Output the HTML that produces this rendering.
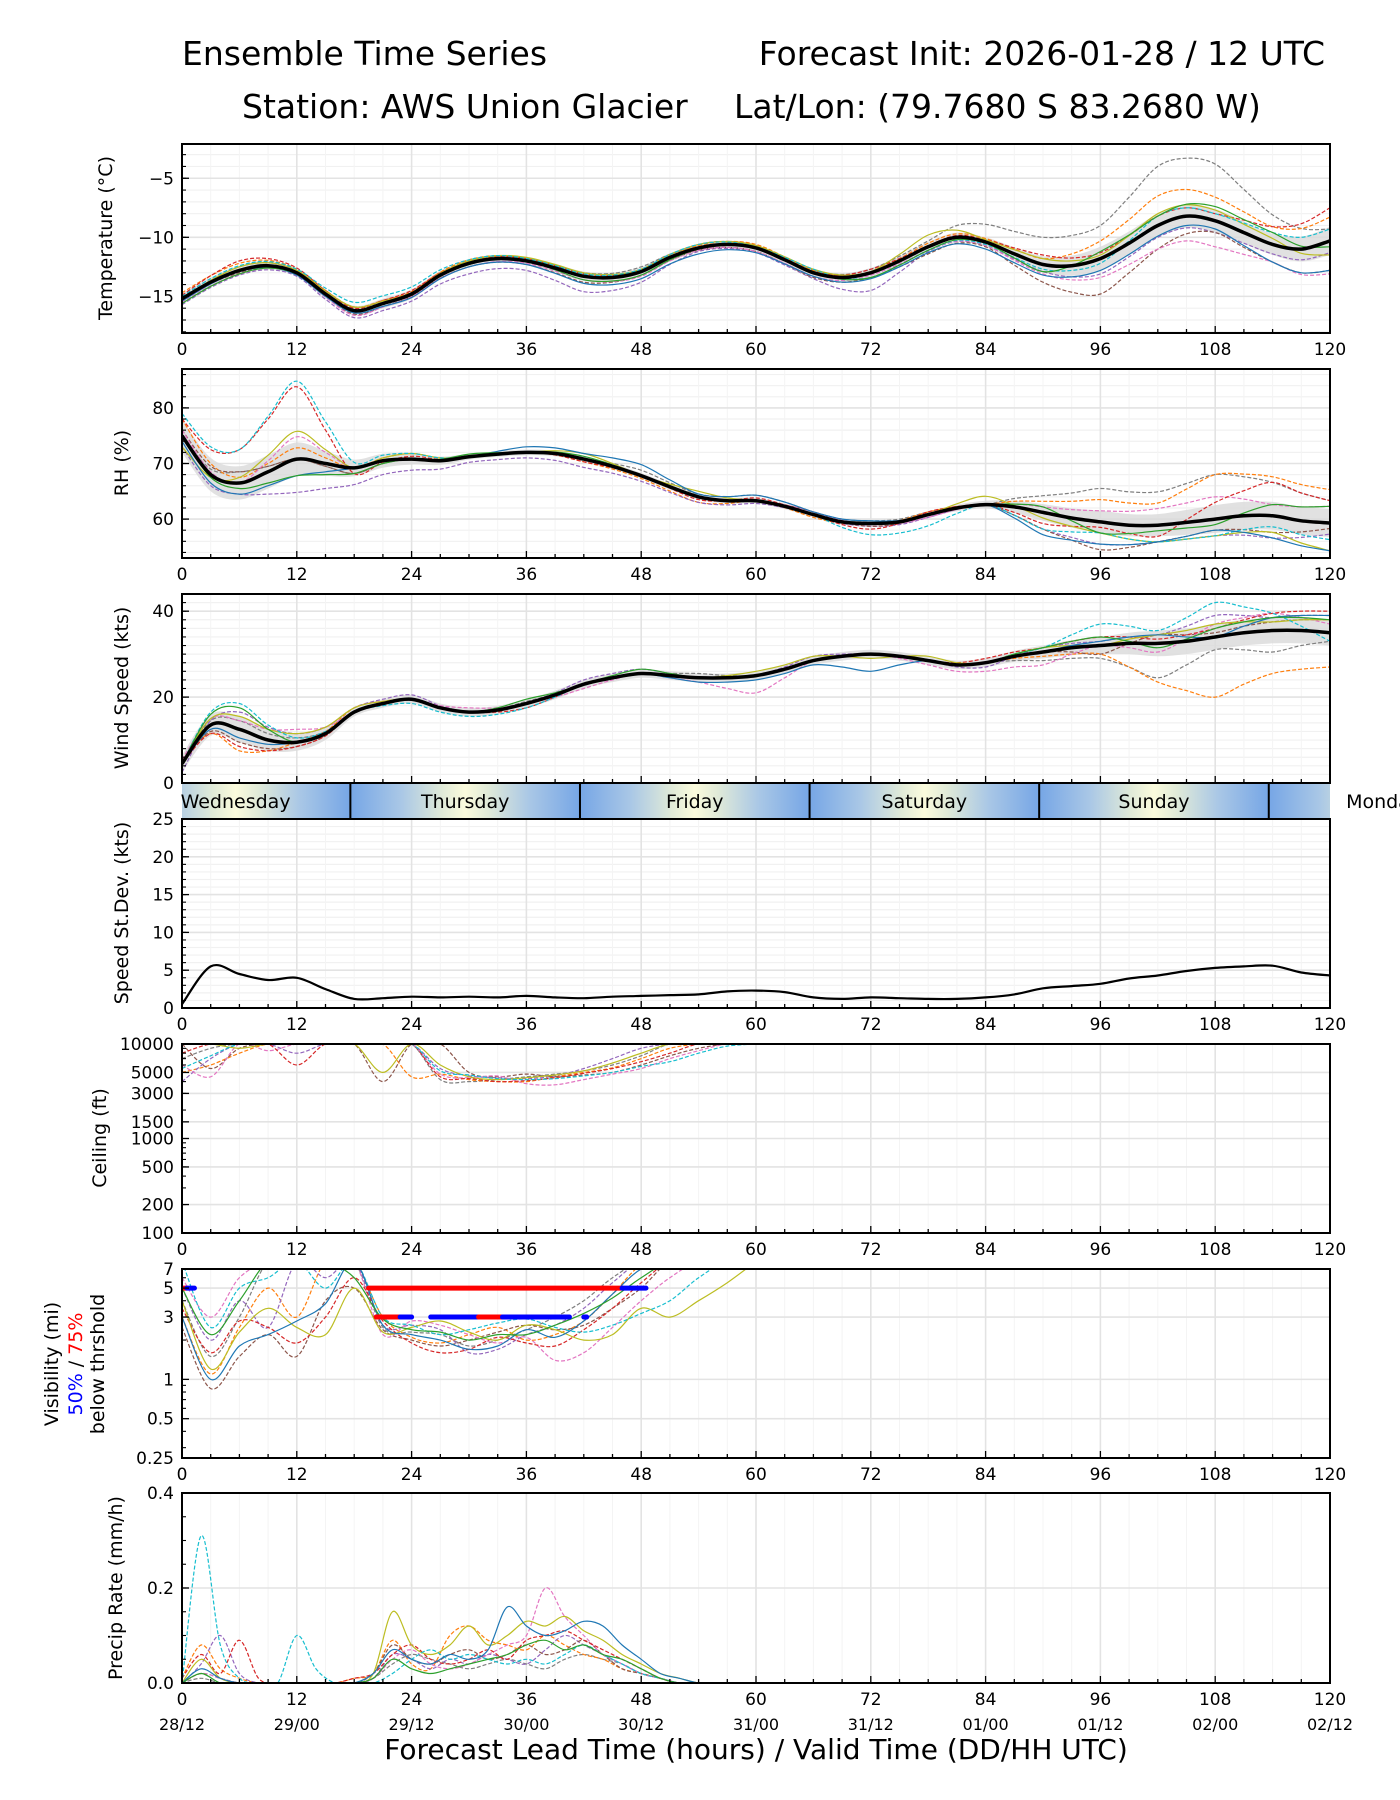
<!DOCTYPE html>
<html><head><meta charset="utf-8"><title>Ensemble Time Series</title>
<style>
html,body{margin:0;padding:0;background:#fff;}
svg{display:block;font-family:"DejaVu Sans","Liberation Sans",sans-serif;}
</style></head>
<body>
<svg id="chart" width="1400" height="1800" viewBox="0 0 1400 1800" xmlns="http://www.w3.org/2000/svg">
<rect width="1400" height="1800" fill="#fff"/>
<text x="182" y="65" font-size="33">Ensemble Time Series</text>
<text x="1325" y="65" font-size="33" text-anchor="end">Forecast Init: 2026-01-28 / 12 UTC</text>
<text x="242" y="118" font-size="33">Station: AWS Union Glacier</text>
<text x="734" y="118" font-size="33">Lat/Lon: (79.7680 S 83.2680 W)</text>
<text x="756" y="1759" font-size="28" text-anchor="middle">Forecast Lead Time (hours) / Valid Time (DD/HH UTC)</text>
</svg>
<script>
// ---------- data ----------
const hours3 = [0,3,6,9,12,15,18,21,24,27,30,33,36,39,42,45,48,51,54,57,60,63,66,69,72,75,78,81,84,87,90,93,96,99,102,105,108,111,114,117,120];
const hours6 = [0,6,12,18,24,30,36,42,48,54,60,66,72,78,84,90,96,102,108,114,120];
const hoursCeilVis = [0,3,6,9,12,15,18,21,24,27,30,33,36,39,42,45,48,51,54,57,60];
const hoursPrecip = [0,2,4,6,8,10,12,14,16,18,20,22,24,26,28,30,32,34,36,38,40,42,44,46,48,50,52,54,56,58,60];
const xTickLabels = ["0","12","24","36","48","60","72","84","96","108","120"];
const dateLabels = ["28/12","29/00","29/12","30/00","30/12","31/00","31/12","01/00","01/12","02/00","02/12"];
const dayNames = ["Wednesday","Thursday","Friday","Saturday","Sunday","Monday"];
const dayBoundaries = [17.6,41.6,65.6,89.6,113.6];

const tempMean = [-15.2,-13.8,-12.8,-12.4,-13.0,-14.8,-16.2,-15.6,-14.8,-13.2,-12.2,-11.8,-12.0,-12.6,-13.3,-13.4,-12.9,-11.7,-10.9,-10.6,-10.9,-11.9,-13.0,-13.4,-13.0,-12.0,-10.8,-10.0,-10.4,-11.4,-12.3,-12.4,-11.8,-10.5,-9.0,-8.2,-8.6,-9.6,-10.6,-11.0,-10.3];
const tempSpread = [0.4,0.4,0.3,0.4,0.4,0.3,0.3,0.4,0.4,0.3,0.3,0.3,0.4,0.4,0.4,0.7,1.0,1.0,1.0,0.9,1.2];
const tempM1 = [0,0.3,0.2,0.3,0.2,0.2,0.2,0.3,0.4,0.1,0,0.2,0.3,0.5,1.5,2.3,2.8,5.0,4.8,2.5,1.0];
const tempM2 = [0.5,0.6,0.3,0.3,0.2,0.3,0.2,0,0,0.2,0.3,0.2,0.1,0.3,0.3,0.5,1.5,2.5,2.0,1.5,2.0];
const tempM3 = [-0.5,-0.4,-0.3,-0.6,-0.6,-0.9,-0.8,-1.3,-0.9,-0.3,-0.4,-0.5,-1.5,-0.4,-0.3,-0.6,-1.3,-1.0,-1.0,-0.8,-1.0];
const tempM4 = [0,-0.2,0,-0.3,-0.2,-0.3,-0.3,-0.5,-0.3,-0.2,-0.3,-0.4,-0.4,-0.6,-0.4,-1.5,-3.0,-2.0,-1.0,-1.5,-2.5];
const tempM5 = [-0.3,-0.3,-0.1,-0.4,-0.2,-0.3,-0.2,-0.3,-0.4,-0.2,-0.3,-0.3,-0.2,-0.3,-0.3,-0.8,-1.6,-2.0,-2.2,-1.5,-2.8];
const tempM6 = [0.3,0.8,0.4,0.2,0.3,0.1,0.2,0.2,0.2,0.3,0.2,0.1,0.3,0.1,0.2,0.8,0.5,0.8,0.6,1.5,2.8];
const tempM7 = [0,0.3,0.2,0.3,0.1,0.2,0.3,0.3,0.2,0.3,0.2,0.3,0.1,1.0,0.2,0.5,0.3,1.0,0.9,0.5,-1.2];
const tempM8 = [0.2,0.4,0.3,0.7,0.6,0.3,0.2,0.2,0.2,0.3,0.1,0.3,-0.4,-0.3,-0.2,-0.4,-0.4,0.8,0.6,1.0,1.0];
const tempM9 = [-0.2,-0.1,-0.2,-0.2,-0.3,-0.3,-0.3,-0.6,-0.6,-0.5,-0.4,-0.3,-0.5,-0.5,-0.6,-0.9,-1.0,-0.9,-0.7,-1.5,-2.5];
const tempM10 = [-0.4,-0.3,-0.1,0,-0.1,-0.1,0,-0.3,-0.3,-0.1,0,0.1,-0.4,-0.3,-0.1,-0.6,0.6,0.8,1.2,1.0,-0.5];

const rhMean = [75,68,66.5,68.5,70.8,70,69.2,70.5,70.8,70.5,71.2,71.7,72.0,71.8,70.8,69.5,67.8,65.8,64,63.3,63.3,62.3,60.8,59.5,59.2,59.5,60.8,62.0,62.6,62.2,61.2,60.2,59.5,58.9,58.9,59.4,60.0,60.6,60.6,59.7,59.3];
const rhSpread = [3,3,3,1.5,1,0.5,0.5,0.5,0.5,0.5,0.5,0.5,0.5,0.5,0.7,1.5,2,2,2.5,2.5,2.5];
const rhM1 = [0,2,0,-1,0,0,0,0,1,0.5,1,0.5,0.5,0.5,0,3,6,6,8,6,4];
const rhM2 = [3,1,2,0,1,0,0,-0.5,-0.5,-1,0,-0.5,0,0.5,0,2,4,4,8,7,6];
const rhM3 = [-2,-2,-6,-3,-2,-1,-1,-1.5,-1,-1,-0.5,0,-0.5,-0.5,0,-3,-4,-3,-3,-4,-2];
const rhM4 = [1,2,0,-1,0,0,0,0,0,0,0,0.5,-0.5,0,0,-3,-5,-3,-2,-3,-1];
const rhM5 = [1,0,4,0,0,0,0,0,0,0,0,0.5,0,-0.5,0,1,2,3,4,2,3];
const rhM6 = [3,6,13,-1,0.5,0,0,-0.5,0,-0.5,0.5,0,-1,0.5,0,-2,-1,-2,3,6,4];
const rhM7 = [-2,1,5,0,1,0,0,1,0,1,0,0,0,0,1.5,-1,-2,-3,-3,-3,-5];
const rhM8 = [4,6,14,1,1,0,0,0,0,0,0,0,-2,-2,0,-3,-2,-3,-3,-2,-3];
const rhM9 = [-1,-2,-3,0,0,0,1,1,2,0.5,1,0.5,0.5,0,0,-4,-4,-3,-2,-4,-5];
const rhM10 = [0,-1,-3,-1,0,0.5,0,0.5,0,0,0,0,0,0,0,1,-2,-1,-1,2,3];

const windMean = [4.5,13.5,12.5,10,9.5,11.5,16.5,18.5,19.5,17.5,16.5,17,18.5,20.5,23,24.5,25.5,25,24.5,24.5,25,26.5,28.5,29.5,30,29.5,28.5,27.5,28,29.5,30.5,31.5,32,32.5,32.5,33,34,35,35.5,35.5,35];
const windSpread = [2,3,2,1,1,1,1,1,1,1,1,1,1,1,1,1.5,2,3,3,3,3];
const windM1 = [0,2,1,0,0,0,0.5,0,0,1,0,0,0,0,0,-2,-3,-8,-3,-5,-2];
const windM2 = [1,-5,0,1,0,0,0,0,0,0,0,0,0,0,0,-1,-2,-9,-14,-10,-8];
const windM3 = [-2,4,2,1,1,0,0,1,1,0,0,1,0,0,-1,1,1,2,5,3,4];
const windM4 = [0,-3,-1,0,0,0,0,0,0,0,0,0,0,0,0,0,-2,2,1,2,3];
const windM5 = [1,2,3,0,0,1,0,-1,0,-1,-4,0,0,-1,-2,-3,0,-2,3,4,2];
const windM6 = [0,-4,-1,0,0,0,-1,0,0,0,0,0,0,0,1,1,2,1,2,4,5];
const windM7 = [0,3,2,1,0,0,0,0,0,0,1,1,-1,1,0,1,0,2,3,2,3];
const windM8 = [0,6,1,0,-1,-1,-1,0,0,0,0,0,0,0,0,1,5,3,8,4,-2];
const windM9 = [0,-2,0,0,0,0,0,0,0,-1,-1,-1,-4,0,0,0,1,2,0,3,4];
const windM10 = [0,5,0,0,0,0,1,0,1,0,0,0,0,0,0,1,2,-1,2,3,3];

const speedStd = [0.5,5.5,4.5,3.7,4.0,2.5,1.2,1.3,1.5,1.4,1.5,1.4,1.6,1.4,1.3,1.5,1.6,1.7,1.8,2.2,2.3,2.1,1.4,1.2,1.4,1.3,1.2,1.2,1.4,1.8,2.6,2.9,3.2,3.9,4.3,4.9,5.3,5.5,5.6,4.7,4.3];

const ceilM1 = [7000,9000,10000,10000,10000,10000,10000,10000,10000,4200,4000,4200,4500,4800,5200,6000,7500,10000,10000,10000,10000];
const ceilM2 = [5000,6000,8000,10000,10000,10000,10000,10000,4500,4800,4200,4000,4000,4500,5000,5600,7000,9000,10000,10000,10000];
const ceilM3 = [4000,7000,10000,10000,8000,10000,10000,10000,10000,5500,4600,4400,4300,4600,5500,7000,9000,10000,10000,10000,10000];
const ceilM4 = [10000,5500,9000,10000,10000,10000,10000,4000,10000,10000,5000,4500,4800,4500,4700,5000,6000,7500,9000,10000,10000];
const ceilM5 = [6000,4500,10000,8500,10000,10000,10000,10000,10000,4800,4400,4600,3800,3700,4200,4800,5500,7000,8500,10000,10000];
const ceilM6 = [8000,10000,10000,10000,6000,10000,10000,10000,10000,4500,4300,4000,4100,4400,4900,5500,6500,8000,10000,10000,10000];
const ceilM7 = [10000,10000,9000,10000,10000,10000,10000,5000,10000,6000,4500,4200,4400,4700,5200,6300,8000,10000,10000,10000,10000];
const ceilM8 = [5500,7500,10000,10000,10000,10000,10000,10000,10000,5200,4700,4300,4200,4300,4600,5000,5800,6500,8000,9500,10000];

const visM1 = [4,1.5,3,8,8,8,8,2.5,2.3,2.2,1.8,2.0,2.4,3,4,6,8,8,8,8,8];
const visM2 = [3,1.1,2.5,5,3,8,8,3,2.1,1.9,2.2,2.5,2.0,2.2,2.8,4.5,7.5,8,8,8,8];
const visM3 = [5,2,4,2.5,8,6,8,2.6,2.6,2.4,1.6,1.7,2.2,2.6,3.5,5.5,8,8,8,8,8];
const visM4 = [2.5,0.85,1.5,2.2,1.5,4,5,2.4,2.0,1.8,2.0,2.3,2.6,2.4,2.6,3.5,5,8,8,8,8];
const visM5 = [6,3,6,8,8,8,8,2.2,2.8,2.6,2.2,1.9,2.1,1.4,1.6,2.5,4,6,8,8,8];
const visM6 = [3.5,1.6,2.8,2.5,1.9,3,6,2.8,1.9,1.6,1.7,2.1,1.9,1.8,2.4,3.5,5.5,8,8,8,8];
const visM7 = [4,1.2,2.3,3.5,2.5,2.2,5,2.3,2.5,2.8,2.3,2.0,2.6,2.4,2.0,2.2,3.5,3.0,4,5.5,8];
const visM8 = [8,2.5,5,6,8,5,8,3,2.6,2.2,2.4,2.7,2.9,2.5,2.3,2.6,3.2,4,6,8,8];
const visM9 = [3,1.0,1.8,2.2,2.8,3.8,8,2.6,2.2,2.0,1.7,1.8,2.4,2.1,2.8,4.5,7,8,8,8,8];
const visM10 = [5,2.2,4,8,8,8,6,2.9,2.4,2.3,2.0,2.2,2.2,2.6,3.2,4.2,6,8,8,8,8];
const visThreshLevels = [5,5,5,5,3,3,3,3,3,3];
const visThreshStart = [0,0.5,19.5,46,20.3,22.8,26,31,33.5,42];
const visThreshEnd = [0.5,1.3,46,48.5,22.8,24,31,33.5,40.5,42.3];
const visThreshPct = [75,50,75,50,75,50,50,75,50,50];

const precipM1 = [0,0.31,0.08,0.01,0,0,0.1,0.03,0,0,0,0.02,0.05,0.07,0.05,0.06,0.05,0.04,0.05,0.04,0.06,0.08,0.06,0.04,0.02,0.01,0,0,0,0,0];
const precipM2 = [0.01,0.06,0.02,0.09,0.01,0,0,0,0,0.01,0.02,0.06,0.08,0.05,0.04,0.05,0.07,0.05,0.09,0.1,0.11,0.09,0.07,0.05,0.03,0.01,0,0,0,0,0];
const precipM3 = [0,0.02,0.01,0,0,0,0,0,0,0,0.01,0.05,0.07,0.04,0.03,0.04,0.06,0.08,0.1,0.2,0.14,0.1,0.06,0.04,0.02,0.01,0,0,0,0,0];
const precipM4 = [0,0.05,0.01,0,0,0,0,0,0,0,0.02,0.15,0.08,0.06,0.08,0.12,0.08,0.1,0.13,0.12,0.14,0.11,0.09,0.06,0.04,0.02,0.01,0,0,0,0];
const precipM5 = [0,0.03,0.01,0,0,0,0,0,0,0,0.02,0.07,0.05,0.04,0.06,0.05,0.07,0.16,0.12,0.1,0.11,0.13,0.12,0.08,0.05,0.02,0.01,0,0,0,0];
const precipM6 = [0.01,0.08,0.03,0.01,0,0,0,0,0,0.01,0.02,0.09,0.04,0.03,0.1,0.12,0.09,0.08,0.07,0.1,0.08,0.06,0.05,0.03,0.02,0.01,0,0,0,0,0];
const precipM7 = [0,0.02,0,0,0,0,0,0,0,0,0.01,0.05,0.03,0.02,0.03,0.04,0.05,0.06,0.08,0.09,0.07,0.08,0.06,0.05,0.03,0.01,0,0,0,0,0];
const precipM8 = [0,0.04,0.1,0.02,0,0,0,0,0,0,0.01,0.06,0.05,0.03,0.05,0.04,0.06,0.05,0.04,0.07,0.1,0.08,0.06,0.04,0.02,0.01,0,0,0,0,0];
const precipM9 = [0,0.01,0,0,0,0,0,0,0,0,0.01,0.04,0.06,0.05,0.04,0.03,0.04,0.05,0.04,0.03,0.05,0.06,0.05,0.04,0.02,0.01,0,0,0,0,0];
const precipM10 = [0,0.02,0.01,0,0,0,0,0,0,0,0.02,0.08,0.05,0.04,0.06,0.07,0.05,0.06,0.08,0.06,0.07,0.09,0.06,0.03,0.02,0.01,0,0,0,0,0];

// ---------- rendering ----------
const svg = document.getElementById('chart');
const NS = 'http://www.w3.org/2000/svg';
const X0 = 182, X1 = 1330;
function xS(h){ return X0 + h * (X1 - X0) / 120; }
function el(tag, attrs, parent){
  const e = document.createElementNS(NS, tag);
  for (const k in attrs) e.setAttribute(k, attrs[k]);
  (parent || svg).appendChild(e);
  return e;
}
const COLORS = ['#7f7f7f','#ff7f0e','#9467bd','#8c564b','#e377c2','#d62728','#bcbd22','#17becf','#1f77b4','#2ca02c'];
const DASHED = [true,true,true,true,true,true,false,true,false,false];
function smoothPath(pts){
  let d = 'M' + pts[0][0].toFixed(1) + ',' + pts[0][1].toFixed(1);
  for (let i = 0; i < pts.length - 1; i++){
    const p0 = pts[Math.max(0,i-1)], p1 = pts[i], p2 = pts[i+1], p3 = pts[Math.min(pts.length-1,i+2)];
    const c1x = p1[0] + (p2[0]-p0[0])/6, c1y = p1[1] + (p2[1]-p0[1])/6;
    const c2x = p2[0] - (p3[0]-p1[0])/6, c2y = p2[1] - (p3[1]-p1[1])/6;
    d += 'C' + c1x.toFixed(1) + ',' + c1y.toFixed(1) + ' ' + c2x.toFixed(1) + ',' + c2y.toFixed(1) + ' ' + p2[0].toFixed(1) + ',' + p2[1].toFixed(1);
  }
  return d;
}
function interp(xs, ys, x){
  if (x <= xs[0]) return ys[0];
  for (let i = 0; i < xs.length - 1; i++){
    if (x <= xs[i+1]) return ys[i] + (ys[i+1]-ys[i]) * (x - xs[i]) / (xs[i+1]-xs[i]);
  }
  return ys[ys.length-1];
}

function makePanel(name, top, bottom, yFn, yMajor, yMinor, yLabels, hGridMinor){
  const g = el('g', {});
  
  
  const cid = 'clip-' + name;
  const cp = el('clipPath', {id: cid}, g);
  el('rect', {x: X0, y: top, width: X1 - X0, height: bottom - top}, cp);
  if (hGridMinor) yMinor.forEach(v => { const y = yFn(v); el('line', {x1: X0, x2: X1, y1: y, y2: y, stroke: '#f1f1f1', 'stroke-width': 1.2}, g); });
  for (let h = 0; h <= 120; h += 3){ if (h % 12) { el('line', {x1: xS(h), x2: xS(h), y1: top, y2: bottom, stroke: '#f4f4f4', 'stroke-width': 1}, g); } }
  yMajor.forEach(v => { const y = yFn(v); el('line', {x1: X0, x2: X1, y1: y, y2: y, stroke: '#e3e3e3', 'stroke-width': 1.6}, g); });
  for (let h = 12; h < 120; h += 12){ el('line', {x1: xS(h), x2: xS(h), y1: top, y2: bottom, stroke: '#e3e3e3', 'stroke-width': 1.6}, g); }
  const plot = el('g', {'clip-path': 'url(#' + cid + ')'}, g);
  
  
  return {g, plot, top, bottom, yFn, yMajor, yMinor, yLabels, name};
}
function finishPanel(P, showDates, hideX){
  const g = P.g;
  for (let h = 0; h <= 120; h += 3){
    const major = h % 12 === 0; const L = major ? 7 : 4;
    el('line', {x1: xS(h), x2: xS(h), y1: P.bottom, y2: P.bottom - L, stroke: '#000', 'stroke-width': 1.3}, g);
  }
  P.yMajor.forEach(v => { const y = P.yFn(v); el('line', {x1: X0, x2: X0 + 7, y1: y, y2: y, stroke: '#000', 'stroke-width': 1.3}, g); });
  P.yMinor.forEach(v => { const y = P.yFn(v); el('line', {x1: X0, x2: X0 + 4, y1: y, y2: y, stroke: '#000', 'stroke-width': 1.1}, g); });
  el('rect', {x: X0, y: P.top, width: X1 - X0, height: P.bottom - P.top, fill: 'none', stroke: '#000', 'stroke-width': 2}, g);
  if (!hideX) xTickLabels.forEach((t, i) => {
    const tx = el('text', {x: xS(i * 12), y: P.bottom + 22, 'font-size': 17, 'text-anchor': 'middle'}, g);
    
    
    tx.textContent = t;
    if (showDates){
      const dt = el('text', {x: xS(i * 12), y: P.bottom + 47, 'font-size': 16, 'text-anchor': 'middle'}, g);
      
      
      dt.textContent = dateLabels[i];
    }
  });
  P.yLabels.forEach(([v, t]) => {
    const ty = el('text', {x: X0 - 8, y: P.yFn(v) + 6, 'font-size': 17, 'text-anchor': 'end'}, g);
    
    
    ty.textContent = t;
  });
}
function yTitle(x, yc, lines, name){
  const t = el('text', {transform: 'translate(' + x + ',' + yc + ') rotate(-90)', 'font-size': 19, 'text-anchor': 'middle'});
  
  
  if (typeof lines === 'string') t.textContent = lines;
  else lines.forEach(([s, c]) => { const sp = el('tspan', {fill: c}, t); sp.textContent = s; });
  return t;
}
function range(a, b, s){ const r = []; for (let v = a; v <= b + 1e-9; v += s) r.push(Math.round(v * 1000) / 1000); return r; }

function drawEnsemble(P, name, mean, spread, members){
  const yFn = P.yFn;
  const upper = hours3.map(h => [xS(h), yFn(interp(hours3, mean, h) + interp(hours6, spread, h))]);
  const lower = hours3.map(h => [xS(h), yFn(interp(hours3, mean, h) - interp(hours6, spread, h))]).reverse();
  const band = el('path', {d: smoothPath(upper) + 'L' + smoothPath(lower).slice(1) + 'Z', fill: '#d9d9d9', opacity: 0.8}, P.plot);
  
  
  members.forEach((off, i) => {
    const pts = hours3.map(h => [xS(h), yFn(interp(hours3, mean, h) + interp(hours6, off, h))]);
    const p = el('path', {d: smoothPath(pts), fill: 'none', stroke: COLORS[i], 'stroke-width': 1.2, 'stroke-dasharray': DASHED[i] ? '4,2' : 'none'}, P.plot);
    
    
  });
  const mp = el('path', {d: smoothPath(hours3.map((h, i) => [xS(h), yFn(mean[i])])), fill: 'none', stroke: '#000', 'stroke-width': 3.5}, P.plot);
  
  
}
function drawMembers(P, name, hs, members){
  members.forEach((vals, i) => {
    const pts = hs.map((h, j) => [xS(h), P.yFn(vals[j])]);
    const p = el('path', {d: smoothPath(pts), fill: 'none', stroke: COLORS[i % 10], 'stroke-width': 1.2, 'stroke-dasharray': DASHED[i % 10] ? '4,2' : 'none'}, P.plot);
    
    
  });
}

// Temperature
const TMIN = -18.1, TMAX = -2.1;
const tP = makePanel('temperature', 144, 333, v => 333 - (v - TMIN) / (TMAX - TMIN) * 189, [-5,-10,-15], range(-18,-3,1), [[-5,'\u22125'],[-10,'\u221210'],[-15,'\u221215']], true);
drawEnsemble(tP, 'temperature', tempMean, tempSpread, [tempM1,tempM2,tempM3,tempM4,tempM5,tempM6,tempM7,tempM8,tempM9,tempM10]);
finishPanel(tP, false);
yTitle(112, 238, 'Temperature (\u00b0C)', 'temperature-y-axis-title');

// RH
const RMIN = 53, RMAX = 87;
const rP = makePanel('rh', 369, 558, v => 558 - (v - RMIN) / (RMAX - RMIN) * 189, [60,70,80], range(54,86,2), [[60,'60'],[70,'70'],[80,'80']], true);
drawEnsemble(rP, 'rh', rhMean, rhSpread, [rhM1,rhM2,rhM3,rhM4,rhM5,rhM6,rhM7,rhM8,rhM9,rhM10]);
finishPanel(rP, false);
yTitle(128, 463, 'RH (%)', 'rh-y-axis-title');

// Wind
const WMAX = 44;
const wP = makePanel('wind', 594, 783, v => 783 - v / WMAX * 189, [0,20,40], range(2,42,2), [[0,'0'],[20,'20'],[40,'40']], true);
drawEnsemble(wP, 'wind', windMean, windSpread, [windM1,windM2,windM3,windM4,windM5,windM6,windM7,windM8,windM9,windM10]);
finishPanel(wP, false, true);
yTitle(128, 688, 'Wind Speed (kts)', 'wind-y-axis-title');

// Day band
(function(){
  const g = el('g', {});
  
  
  const defs = el('defs', {}, g);
  const lg = el('linearGradient', {id: 'dayGrad', gradientUnits: 'userSpaceOnUse', x1: xS(dayBoundaries[0]), x2: xS(dayBoundaries[1]), y1: 0, y2: 0, spreadMethod: 'repeat'}, defs);
  [[0,'#76a6e6'],[0.22,'#a9c7e6'],[0.4,'#e0ead8'],[0.5,'#fbfbdc'],[0.6,'#e0ead8'],[0.78,'#a9c7e6'],[1,'#76a6e6']].forEach(([o, c]) => el('stop', {offset: o, 'stop-color': c}, lg));
  el('rect', {x: X0, y: 784, width: X1 - X0, height: 35, fill: 'url(#dayGrad)'}, g);
  dayBoundaries.forEach(h => { const l = el('line', {x1: xS(h), x2: xS(h), y1: 783, y2: 819, stroke: '#000', 'stroke-width': 2}, g);   });
  dayNames.forEach((n, i) => {
    const t = el('text', {x: xS(dayBoundaries[0] - 12 + 24 * i), y: 808, 'font-size': 19, 'text-anchor': 'middle'}, g);
    
    
    t.textContent = n;
  });
})();

// Speed St Dev
const sP = makePanel('speed-stdev', 819, 1008, v => 1008 - v / 25 * 189, [0,5,10,15,20,25], range(1,24,1), [[0,'0'],[5,'5'],[10,'10'],[15,'15'],[20,'20'],[25,'25']], true);
(function(){
  const p = el('path', {d: smoothPath(hours3.map((h, i) => [xS(h), sP.yFn(speedStd[i])])), fill: 'none', stroke: '#000', 'stroke-width': 2.2}, sP.plot);
  
  
})();
finishPanel(sP, false);
yTitle(128, 913, 'Speed St.Dev. (kts)', 'speed-stdev-y-axis-title');

// Ceiling (log)
const cLog = v => 1233 - (Math.log10(v) - 2) / 2 * 189;
const cMinor = [200,300,400,500,600,700,800,900,2000,3000,4000,5000,6000,7000,8000,9000];
const cP = makePanel('ceiling', 1044, 1233, cLog, [100,200,500,1000,1500,3000,5000,10000], cMinor, [[10000,'10000'],[5000,'5000'],[3000,'3000'],[1500,'1500'],[1000,'1000'],[500,'500'],[200,'200'],[100,'100']], false);
drawMembers(cP, 'ceiling', hoursCeilVis, [ceilM1,ceilM2,ceilM3,ceilM4,ceilM5,ceilM6,ceilM7,ceilM8]);
finishPanel(cP, false);
yTitle(106, 1138, 'Ceiling (ft)', 'ceiling-y-axis-title');

// Visibility (log)
const VMIN = Math.log10(0.25), VMAX = Math.log10(7);
const vLog = v => 1458 - (Math.log10(v) - VMIN) / (VMAX - VMIN) * 189;
const vP = makePanel('visibility', 1269, 1458, vLog, [0.5,1,3,5,7], [0.3,0.4,0.6,0.7,0.8,0.9,2,4,6], [[7,'7'],[5,'5'],[3,'3'],[1,'1'],[0.5,'0.5'],[0.25,'0.25']], false);
drawMembers(vP, 'visibility', hoursCeilVis, [visM1,visM2,visM3,visM4,visM5,visM6,visM7,visM8,visM9,visM10]);
visThreshLevels.forEach((lv, i) => {
  const c = visThreshPct[i] === 50 ? '#0000ff' : '#ff0000';
  const l = el('line', {x1: xS(visThreshStart[i]), x2: xS(visThreshEnd[i]), y1: vLog(lv), y2: vLog(lv), stroke: c, 'stroke-width': 5, 'stroke-linecap': 'round'}, vP.plot);
  
  
});
finishPanel(vP, false);
yTitle(58, 1364, 'Visibility (mi)', 'visibility-y-axis-title');
yTitle(82, 1364, [['50%','#0000ff'],[' / ','#000'],['75%','#ff0000']], 'visibility-threshold-legend');
yTitle(104, 1364, 'below thrshold', 'visibility-y-axis-subtitle');

// Precip (cyan member carries the early spike)
const pP = makePanel('precip', 1493, 1683, v => 1683 - v / 0.4 * 190, [0,0.2,0.4], range(0.05,0.35,0.05), [[0,'0.0'],[0.2,'0.2'],[0.4,'0.4']], false);
drawMembers(pP, 'precip', hoursPrecip, [precipM9,precipM6,precipM8,precipM10,precipM3,precipM2,precipM4,precipM1,precipM5,precipM7]);
finishPanel(pP, true);
yTitle(122, 1588, 'Precip Rate (mm/h)', 'precip-y-axis-title');
</script>
</body></html>
